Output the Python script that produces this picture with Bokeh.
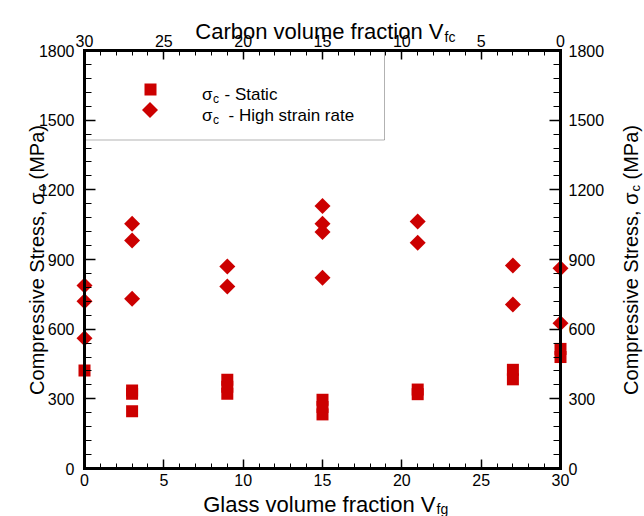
from bokeh.plotting import figure
from bokeh.models import Range1d, LinearAxis, FixedTicker, Label, BoxAnnotation
from bokeh.embed import file_html
from bokeh.resources import INLINE

# ---- data ----
glass_static = [0, 3, 3, 3, 9, 9, 9, 15, 15, 15, 21, 21, 27, 27, 30, 30]
stress_static = [422, 336, 322, 246, 382, 352, 322, 296, 265, 233, 340, 320, 425, 384, 515, 480]
glass_high = [0, 0, 0, 3, 3, 3, 9, 9, 15, 15, 15, 15, 21, 21, 27, 27, 30, 30]
stress_high = [788, 720, 561, 1054, 982, 731, 870, 784, 1130, 1054, 1018, 821, 1064, 972, 874, 706, 862, 626]

x_ticks = [0, 5, 10, 15, 20, 25, 30]
x_minor_ticks = list(range(0, 31))
y_ticks = [0, 300, 600, 900, 1200, 1500, 1800]
y_minor_ticks = list(range(0, 1801, 60))
legend_labels = ["- Static", "- High strain rate"]

RED = "#cc0000"
FONT = "Liberation Sans"
W, H = 644, 516

# where the axes box sits on the page (pixels)
FL, FR, FT, FB = 84, 560, 50, 468
XMIN, XMAX, YMIN, YMAX = 0, 30, 0, 1800


def X(sx):
    return XMIN + (sx - FL) / (FR - FL) * (XMAX - XMIN)


def Y(sy):
    return YMIN + (FB - sy) / (FB - FT) * (YMAX - YMIN)


# the plotting frame spans the whole page; the axes are pinned at the box edges
p = figure(width=W, height=H, x_range=Range1d(X(0), X(W)), y_range=Range1d(Y(H), Y(0)),
           output_backend="svg", toolbar_location=None, min_border=0,
           x_axis_location=None, y_axis_location=None)
p.extra_x_ranges = {"carbon": Range1d(XMAX - X(0), XMAX - X(W))}
p.grid.visible = False
p.outline_line_color = None
p.background_fill_color = "white"
p.border_fill_color = "white"

ax_bottom = LinearAxis(fixed_location=YMIN, bounds=(XMIN, XMAX))
ax_top = LinearAxis(fixed_location=YMAX, x_range_name="carbon", bounds=(XMIN, XMAX))
ax_left = LinearAxis(fixed_location=XMIN, bounds=(YMIN, YMAX))
ax_right = LinearAxis(fixed_location=XMAX, bounds=(YMIN, YMAX))
p.add_layout(ax_bottom, "below")
p.add_layout(ax_top, "above")
p.add_layout(ax_left, "left")
p.add_layout(ax_right, "right")

for ax in (ax_bottom, ax_top):
    ax.ticker = FixedTicker(ticks=x_ticks, minor_ticks=x_minor_ticks)
    ax.major_tick_in = 9
    ax.minor_tick_in = 5
for ax in (ax_left, ax_right):
    ax.ticker = FixedTicker(ticks=y_ticks, minor_ticks=y_minor_ticks)
    ax.major_tick_in = 11
    ax.minor_tick_in = 7

for ax in (ax_bottom, ax_top, ax_left, ax_right):
    ax.axis_line_color = "black"
    ax.axis_line_width = 3
    ax.axis_line_cap = "square"
    ax.major_tick_out = 0
    ax.minor_tick_out = 0
    ax.major_tick_line_color = "black"
    ax.major_tick_line_width = 1.5
    ax.minor_tick_line_color = "black"
    ax.minor_tick_line_width = 1
    ax.major_label_text_font = FONT
    ax.major_label_text_font_size = "16px"
    ax.major_label_text_color = "black"
    ax.axis_label = None

ax_bottom.major_label_standoff = 5
ax_top.major_label_standoff = 4
ax_left.major_label_standoff = 10
ax_right.major_label_standoff = 8

# data
p.scatter(glass_static, stress_static, marker="square", size=12, color=RED, line_width=0)
p.scatter(glass_high, stress_high, marker="square", size=11.3, angle=0.7853981634,
          color=RED, line_width=0)

# legend box and entries
p.add_layout(BoxAnnotation(left=X(FL), right=X(384), top=Y(FT), bottom=Y(139.5),
                           fill_alpha=0, line_color="black", line_width=1))
p.scatter([X(150)], [Y(89)], marker="square", size=12, color=RED, line_width=0)
p.scatter([X(149.5)], [Y(109.5)], marker="square", size=11.3, angle=0.7853981634,
          color=RED, line_width=0)


def lab(sx, sy, text, size, align="left", angle=0):
    p.add_layout(Label(x=X(sx), y=Y(sy), text=text, text_font=FONT, text_font_size=size,
                       text_color="black", text_align=align, text_baseline="alphabetic",
                       angle=angle, angle_units="deg"))


lab(201.5, 94, "σ", "17px")
lab(212.5, 98, "c", "12px")
lab(224, 94, legend_labels[0], "17px")
lab(201.5, 115, "σ", "17px")
lab(212.5, 119, "c", "12px")
lab(228, 115, legend_labels[1], "17px")

# axis titles
lab(443, 30.5, "Carbon volume fraction V", "22px", align="right")
lab(444, 36, "fc", "14px")
lab(435, 504, "Glass volume fraction V", "22px", align="right")
lab(436, 508.5, "fg", "14px")

for bx in (36, 630):
    lab(bx, 192, "Compressive Stress, σ", "20px", align="right", angle=90)
    lab(bx + 5, 191, "c", "13px", angle=90)
    lab(bx, 179, "(MPa)", "20px", angle=90)

open("out.html", "w").write(file_html(p, INLINE))
